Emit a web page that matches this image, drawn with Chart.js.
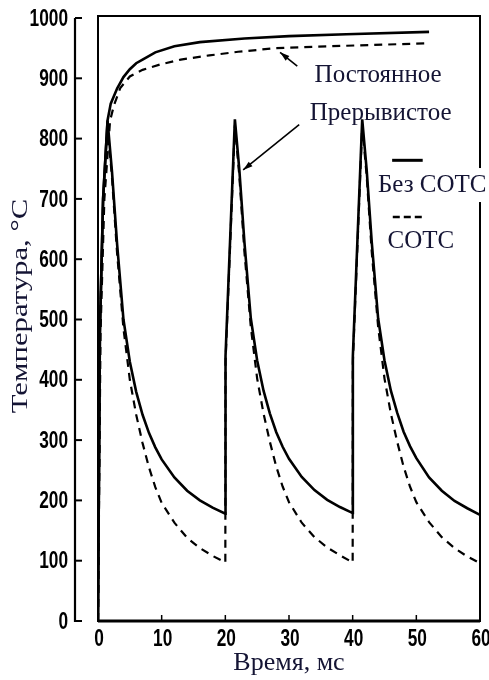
<!DOCTYPE html>
<html>
<head>
<meta charset="utf-8">
<script src="https://cdn.jsdelivr.net/npm/chart.js@4.4.1/dist/chart.umd.min.js"></script>
<style>
  html, body { margin: 0; padding: 0; background: #fff; }
</style>
</head>
<body>
<canvas id="tempChart" width="489" height="680"></canvas>
<script>
// tick labels
const xTicks = [0, 10, 20, 30, 40, 50, 60];
const yTicks = [0, 100, 200, 300, 400, 500, 600, 700, 800, 900, 1000];

// continuous cutting (Постоянное), time in ms
const constDryT = [0, 0.3, 0.8, 1.5, 2.0, 3, 4, 5, 6, 7, 9, 12, 16, 23, 30, 39, 52];
const constDry  = [0, 480, 700, 830, 858, 883, 902, 915, 925, 931, 943, 953, 960, 966, 970, 973, 977];
const constWetT = [0, 0.4, 1.0, 1.9, 2.5, 3.5, 5, 7, 9.8, 13, 17.5, 22, 28, 39, 51.6];
const constWet  = [0, 480, 700, 830, 855, 884, 903, 914, 923, 931, 938, 944, 950, 954, 958];

// interrupted cutting (Прерывистое)
const pulseT = [
  0, 0.3, 0.8, 1.5, 2.2, 3, 4, 5, 6, 7, 8, 9, 10, 12, 14, 16, 18, 20,
  20.03, 21.5, 22.2, 23, 24, 25, 26, 27, 28, 29, 30, 32, 34, 36, 38, 40,
  40.03, 41.5, 42.2, 43, 44, 45, 46, 47, 48, 49, 50, 52, 54, 56, 58, 60
];
const pulseDry = [
  0, 480, 700, 830, 745, 625, 500, 430, 380, 342, 312, 288, 268, 238, 216, 200, 188, 178,
  440, 832, 748, 628, 502, 432, 382, 344, 313, 289, 269, 239, 217, 201, 189, 179,
  440, 832, 748, 628, 502, 432, 382, 345, 314, 290, 270, 238, 216, 199, 187, 176
];
const pulseWet = [
  0, 475, 690, 820, 735, 610, 485, 400, 342, 295, 255, 222, 196, 163, 138, 121, 108, 97,
  430, 822, 738, 612, 488, 402, 344, 297, 256, 223, 197, 163, 139, 122, 109, 97,
  430, 822, 738, 612, 488, 402, 344, 297, 256, 223, 197, 164, 139, 121, 107, 96
];

const ink = "#000";
const textInk = "#141434";
const serif = "'Liberation Serif', 'Times New Roman', serif";

const pts = (ts, vs) => ts.map((t, i) => ({ x: t, y: vs[i] }));

const line = (data, dashed) => ({
  data: data,
  borderColor: ink,
  borderWidth: dashed ? 2.2 : 2.6,
  borderDash: dashed ? [8, 6] : [],
  pointRadius: 0,
  fill: false,
  tension: 0
});

function arrow(ctx, x1, y1, x2, y2) {
  const a = Math.atan2(y2 - y1, x2 - x1);
  ctx.beginPath();
  ctx.moveTo(x1, y1);
  ctx.lineTo(x2, y2);
  ctx.stroke();
  ctx.beginPath();
  ctx.moveTo(x2, y2);
  ctx.lineTo(x2 - 10 * Math.cos(a - 0.3), y2 - 10 * Math.sin(a - 0.3));
  ctx.lineTo(x2 - 10 * Math.cos(a + 0.3), y2 - 10 * Math.sin(a + 0.3));
  ctx.closePath();
  ctx.fill();
}

// narrow bold digits, like the scanned original
function tickText(ctx, txt, x, y, align) {
  ctx.save();
  ctx.translate(x, y);
  ctx.scale(0.72, 1);
  ctx.textAlign = align;
  ctx.fillText(txt, 0, 0);
  ctx.restore();
}

const framePlugin = {
  id: "frame",
  afterDraw(chart) {
    const { ctx, chartArea: a, scales: { x, y } } = chart;
    const px = v => x.getPixelForValue(v);
    const py = v => y.getPixelForValue(v);
    ctx.save();
    ctx.strokeStyle = ink;
    ctx.fillStyle = ink;

    // plot box
    ctx.lineWidth = 2;
    ctx.strokeRect(a.left, a.top - 2, a.right - a.left, a.bottom - a.top + 2);
    ctx.lineWidth = 3;
    ctx.beginPath();
    ctx.moveTo(a.left, a.bottom);
    ctx.lineTo(a.right, a.bottom);
    ctx.stroke();

    // small inner ticks on the time axis
    ctx.lineWidth = 1.5;
    xTicks.slice(1, -1).forEach(t => {
      ctx.beginPath();
      ctx.moveTo(px(t), a.bottom);
      ctx.lineTo(px(t), a.bottom - 6);
      ctx.stroke();
    });

    // detached temperature axis
    const ax = a.left - 23;
    ctx.lineWidth = 2.2;
    ctx.beginPath();
    ctx.moveTo(ax, py(1000));
    ctx.lineTo(ax, py(0) + 1);
    ctx.stroke();
    ctx.lineWidth = 2;
    yTicks.forEach(v => {
      ctx.beginPath();
      ctx.moveTo(ax, py(v));
      ctx.lineTo(ax + 7, py(v));
      ctx.stroke();
    });

    // tick labels
    ctx.font = "bold 24px 'Liberation Sans', Arial, sans-serif";
    ctx.textBaseline = "middle";
    y.ticks.forEach(t => tickText(ctx, String(t.value), ax - 7, py(t.value) + 1, "right"));
    x.ticks.forEach(t => tickText(ctx, String(t.value), px(t.value) + 1, a.bottom + 18, "center"));

    // temperature axis title
    ctx.save();
    ctx.translate(21, 306);
    ctx.rotate(-Math.PI / 2);
    ctx.scale(1.28, 1);
    ctx.font = "24px " + serif;
    ctx.fillStyle = textInk;
    ctx.textAlign = "center";
    ctx.fillText("Температура, °С", 0, 0);
    ctx.restore();

    // annotations
    ctx.font = "25px " + serif;
    ctx.textAlign = "center";
    ctx.textBaseline = "middle";
    ctx.fillStyle = textInk;
    ctx.fillText("Постоянное", px(44), py(904));
    ctx.fillText("Прерывистое", px(44.4), py(842));

    const w = ctx.measureText("Без СОТС").width;
    ctx.fillStyle = "#fff";
    ctx.fillRect(px(52.5) - w / 2 - 2, py(723) - 17, w + 4, 34);
    ctx.fillStyle = textInk;
    ctx.fillText("Без СОТС", px(52.5), py(723));
    ctx.fillText("СОТС", px(50.7), py(630));

    // legend samples
    ctx.strokeStyle = ink;
    ctx.lineWidth = 3;
    ctx.beginPath();
    ctx.moveTo(px(46.2), py(764));
    ctx.lineTo(px(51.0), py(764));
    ctx.stroke();
    ctx.setLineDash([7, 4]);
    ctx.lineWidth = 2.5;
    ctx.beginPath();
    ctx.moveTo(px(46.3), py(670));
    ctx.lineTo(px(50.9), py(670));
    ctx.stroke();
    ctx.setLineDash([]);

    // pointers
    ctx.fillStyle = ink;
    ctx.lineWidth = 1.6;
    arrow(ctx, px(31.3), py(920), px(28.6), py(943));
    arrow(ctx, px(31.6), py(823), px(22.8), py(748));
    ctx.restore();
  }
};

new Chart(document.getElementById("tempChart").getContext("2d"), {
  type: "line",
  data: {
    datasets: [
      line(pts(constDryT, constDry), false),
      line(pts(constWetT, constWet), true),
      line(pts(pulseT, pulseDry), false),
      line(pts(pulseT, pulseWet), true)
    ]
  },
  options: {
    responsive: false,
    animation: false,
    layout: { padding: { top: 18, right: 9, left: 0, bottom: 0 } },
    plugins: { legend: { display: false }, tooltip: { enabled: false } },
    scales: {
      x: {
        type: "linear",
        min: 0,
        max: 60,
        afterBuildTicks: s => { s.ticks = xTicks.map(v => ({ value: v })); },
        afterFit: s => {
          s.height = 59;
          s.paddingLeft = s.paddingRight = 0;
        },
        grid: { display: false, drawTicks: false },
        border: { display: false },
        ticks: { display: false },
        title: {
          display: true,
          text: "Время, мс",
          color: textInk,
          font: { family: serif, size: 26 },
          padding: { top: 0, bottom: 1 }
        }
      },
      y: {
        min: 0,
        max: 1000,
        afterBuildTicks: s => { s.ticks = yTicks.map(v => ({ value: v })); },
        afterFit: s => {
          s.width = 98;
          s.paddingTop = s.paddingBottom = 0;
        },
        grid: { display: false, drawTicks: false },
        border: { display: false },
        ticks: { display: false },
        title: { display: false }
      }
    }
  },
  plugins: [framePlugin]
});
</script>
</body>
</html>
